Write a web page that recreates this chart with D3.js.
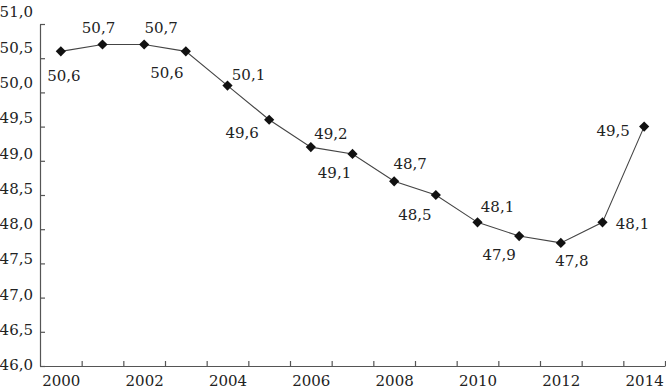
<!DOCTYPE html>
<html>
<head>
<meta charset="utf-8">
<script src="https://cdn.jsdelivr.net/npm/d3@7"></script>
<style>
  body { margin: 0; background: #fff; }
  svg text { font-family: "DejaVu Serif", serif; fill: #222; }
</style>
</head>
<body>
<div class="container"></div>
<script>
// data
const years = [2000, 2001, 2002, 2003, 2004, 2005, 2006, 2007, 2008, 2009, 2010, 2011, 2012, 2013, 2014];
const values = [50.6, 50.7, 50.7, 50.6, 50.1, 49.6, 49.2, 49.1, 48.7, 48.5, 48.1, 47.9, 47.8, 48.1, 49.5];
const yTicks = [46.0, 46.5, 47.0, 47.5, 48.0, 48.5, 49.0, 49.5, 50.0, 50.5, 51.0];
const xLabels = [2000, 2002, 2004, 2006, 2008, 2010, 2012, 2014];

// where each value label sits relative to its point
const labelOffsets = [
    [3, 24], [-4, -17], [17, -17], [-19, 21], [21, -11],
    [-27, 13], [20, -14], [-18, 19], [16, -18], [-21, 20],
    [20, -16], [-20, 19], [11, 18], [30, 1], [-31, 4]
];

let width = 666;
let height = 389;

const svg = d3.select('.container')
    .append('svg')
    .attr('width', width)
    .attr('height', height);

let x = d3.scaleLinear()
    .domain([years[0] - 0.5, years[years.length - 1] + 0.5])
    .range([40, 665]);

let y = d3.scaleLinear()
    .domain([46, 51])
    .range([366, 24]);

// the printed tick labels sit slightly off the tick marks in the original
let yLab = d3.scaleLinear()
    .domain([46, 51])
    .range([365, 12]);

const fmt = d => d3.format('.1f')(d).replace('.', ',');

//Axes
svg.append('g')
    .attr('transform', 'translate(0,366)')
    .call(d3.axisBottom(x)
        .tickValues(years.map(d => d + 0.5))
        .tickSize(-5)
        .tickSizeOuter(0)
        .tickFormat(''));

svg.append('g')
    .attr('transform', 'translate(0,366)')
    .call(d3.axisBottom(x)
        .tickValues(xLabels)
        .tickSize(0)
        .tickPadding(9)
        .tickFormat(d => d))
    .call(g => g.select('.domain').remove());

svg.append('g')
    .attr('transform', 'translate(40,0)')
    .call(d3.axisLeft(y)
        .tickValues(yTicks)
        .tickSize(-5)
        .tickSizeOuter(0)
        .tickFormat(''));

svg.append('g')
    .attr('transform', 'translate(40,0)')
    .call(d3.axisLeft(yLab)
        .tickValues(yTicks)
        .tickSize(0)
        .tickPadding(7)
        .tickFormat(fmt))
    .call(g => g.select('.domain').remove());

svg.selectAll('.tick text')
    .style('font-family', '"DejaVu Serif", serif')
    .style('font-size', '15px')
    .attr('fill', '#222');

svg.selectAll('.domain, .tick line')
    .attr('stroke', '#555')
    .attr('stroke-width', 1.2);

//Line
let data = years.map((yr, i) => ({year: yr, value: values[i], off: labelOffsets[i]}));

let line = d3.line()
    .x(d => x(d.year))
    .y(d => y(d.value));

svg.append('path')
    .datum(data)
    .attr('d', line)
    .attr('fill', 'none')
    .attr('stroke', '#444')
    .attr('stroke-width', 1.1);

//Markers
svg.selectAll('.marker')
    .data(data)
    .enter()
    .append('path')
    .attr('class', 'marker')
    .attr('d', d3.symbol().type(d3.symbolSquare).size(52))
    .attr('fill', '#111')
    .attr('transform', d => 'translate(' + x(d.year) + ',' + y(d.value) + ') rotate(45)');

//Value labels
svg.selectAll('.val')
    .data(data)
    .enter()
    .append('text')
    .attr('class', 'val')
    .attr('x', d => x(d.year) + d.off[0])
    .attr('y', d => y(d.value) + d.off[1])
    .attr('dy', '0.36em')
    .attr('text-anchor', 'middle')
    .style('font-size', '15px')
    .text(d => fmt(d.value));
</script>
</body>
</html>
